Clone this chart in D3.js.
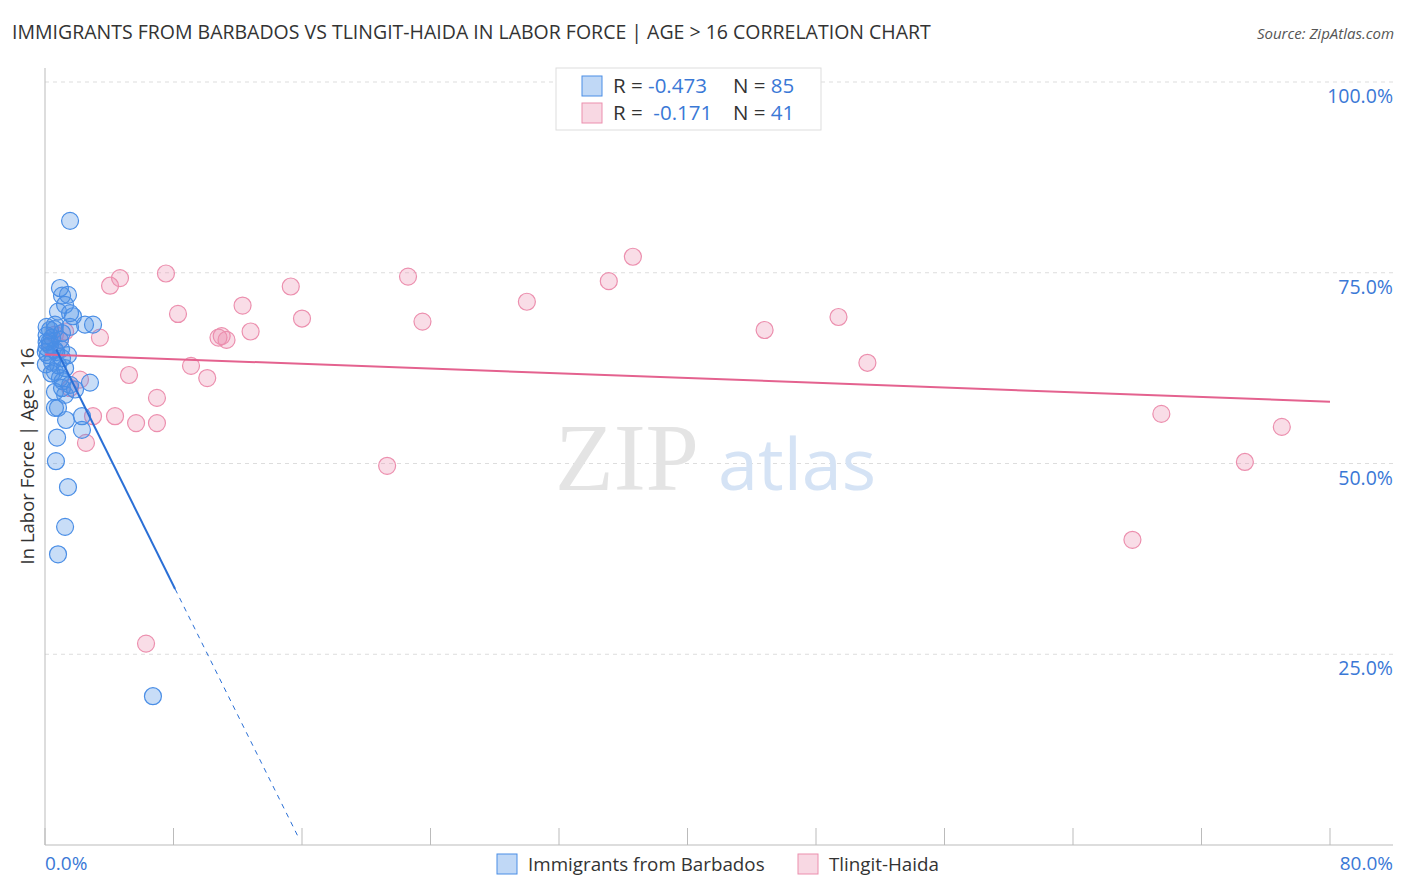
<!DOCTYPE html>
<html><head><meta charset="utf-8">
<script src="https://cdn.jsdelivr.net/npm/d3@7"></script>
<style>body{margin:0;background:#fff;font-family:"Open Sans",Roboto,sans-serif}</style>
</head><body><svg id="c" width="1406" height="892"></svg>
<script>
// Immigrants from Barbados: [x %, y %]
var barbados = [[1.56,81.8],[0.93,73.0],[1.06,72.0],[1.43,72.1],[1.25,70.8],[0.81,69.9],[1.56,69.7],[1.74,69.3],
  [2.99,68.2],[2.49,68.2],[1.56,67.9],[0.62,68.2],[0.31,67.5],[1.06,67.1],[0.44,66.5],[0.93,66.2],[0.31,65.5],
  [0.62,64.9],[0.19,64.2],[1.43,64.2],[1.06,63.8],[0.44,63.3],[0.81,62.9],[1.25,62.5],[0.62,62.0],[0.93,61.2],
  [2.80,60.6],[1.56,60.3],[1.06,59.9],[0.62,59.4],[1.87,59.7],[1.25,59.0],[0.62,57.3],[0.81,57.3],[2.30,56.2],
  [1.31,55.7],[2.30,54.4],[0.75,53.4],[0.68,50.3],[1.43,46.9],[1.25,41.7],[0.81,38.1],[6.72,19.5],
  [0.1,66.8],[0.1,65.9],[0.05,63.0],[0.7,64.6],[0.4,61.8],[1.0,65.0],[0.1,65.2],[0.6,67.6],[1.1,60.8],
  [0.1,67.9],[0.05,64.6],[0.3,66.0]];
// Tlingit-Haida
var tlingit = [[4.67,74.3],[4.05,73.3],[7.53,74.9],[15.3,73.2],[22.6,74.5],[36.6,77.1],[35.1,73.9],[30.0,71.2],
  [12.3,70.7],[8.28,69.6],[16.0,69.0],[23.5,68.6],[49.4,69.2],[44.8,67.5],[12.8,67.3],[11.0,66.7],[10.8,66.5],
  [11.3,66.2],[3.42,66.5],[51.2,63.2],[9.09,62.8],[5.23,61.6],[10.1,61.2],[2.18,61.0],[1.56,59.9],[6.97,58.6],
  [2.99,56.2],[4.36,56.2],[5.67,55.3],[6.97,55.3],[2.55,52.7],[69.5,56.5],[77.0,54.8],[74.7,50.2],[21.3,49.7],
  [67.7,40.0],[6.29,26.4],[0.62,66.9],[0.31,65.5],[0.93,66.2],[1.25,67.3]];
var yTicks = [25, 50, 75, 100];
var xTicks = d3.range(0, 81, 8);

var svg = d3.select("#c");
var x = d3.scaleLinear().domain([0, 80]).range([45, 1330]);
var y = d3.scaleLinear().domain([0, 100]).range([845, 82]);
var blue = "#4a8ee6", pink = "#ec8fae";

svg.append("text").attr("x", 12).attr("y", 39).attr("font-size", 19.5).attr("fill", "#333")
  .text("IMMIGRANTS FROM BARBADOS VS TLINGIT-HAIDA IN LABOR FORCE | AGE > 16 CORRELATION CHART");
svg.append("text").attr("x", 1394).attr("y", 39).attr("font-size", 15).attr("fill", "#555")
  .attr("text-anchor", "end").attr("font-style", "italic").text("Source: ZipAtlas.com");

// grid
svg.selectAll(".g").data(yTicks).enter().append("line")
  .attr("x1", 45).attr("x2", 1393).attr("y1", y).attr("y2", y)
  .attr("stroke", "#ddd").attr("stroke-dasharray", "4,4");
svg.selectAll(".yl").data(yTicks).enter().append("text")
  .attr("x", 1393).attr("y", function(d) { return y(d) + 21; }).attr("text-anchor", "end")
  .attr("font-size", 19.5).attr("fill", "#3a78d6").text(function(d) { return d.toFixed(1) + "%"; });

// axes
svg.append("line").attr("x1", 45).attr("x2", 45).attr("y1", 68).attr("y2", 845).attr("stroke", "#bbb");
svg.append("line").attr("x1", 45).attr("x2", 1393).attr("y1", 845).attr("y2", 845).attr("stroke", "#bbb");
svg.selectAll(".xt").data(xTicks).enter().append("line")
  .attr("x1", x).attr("x2", x).attr("y1", 828).attr("y2", 845).attr("stroke", "#bbb");
svg.append("text").attr("x", 45).attr("y", 870).attr("font-size", 19).attr("fill", "#3a78d6").text("0.0%");
svg.append("text").attr("x", 1393).attr("y", 870).attr("font-size", 19).attr("fill", "#3a78d6")
  .attr("text-anchor", "end").text("80.0%");
svg.append("text").attr("transform", "translate(34,456) rotate(-90)").attr("text-anchor", "middle")
  .attr("font-size", 18.5).attr("fill", "#333").text("In Labor Force | Age > 16");

// watermark
svg.append("text").attr("x", 555).attr("y", 490).attr("font-size", 96).attr("font-family", "Liberation Serif, serif")
  .attr("fill", "#e4e4e4").text("ZIP");
svg.append("text").attr("x", 718).attr("y", 490).attr("font-size", 72).attr("fill", "#d5e3f5").text("atlas");

// points
svg.append("g").selectAll("circle").data(tlingit).enter().append("circle")
  .attr("cx", function(d) { return x(d[0]); }).attr("cy", function(d) { return y(d[1]); }).attr("r", 8.5)
  .attr("fill", pink).attr("fill-opacity", 0.3).attr("stroke", pink).attr("stroke-width", 1.2);
svg.append("g").selectAll("circle").data(barbados).enter().append("circle")
  .attr("cx", function(d) { return x(d[0]); }).attr("cy", function(d) { return y(d[1]); }).attr("r", 8.5)
  .attr("fill", blue).attr("fill-opacity", 0.3).attr("stroke", blue).attr("stroke-width", 1.2);

// trend lines
svg.append("line").attr("x1", x(0)).attr("y1", y(64.3)).attr("x2", x(80)).attr("y2", y(58.1))
  .attr("stroke", "#e4628f").attr("stroke-width", 2);
var bt = function(v) { return 67.9 - 4.24 * v; };
svg.append("line").attr("x1", x(0.7)).attr("y1", y(bt(0.7))).attr("x2", x(8.1)).attr("y2", y(bt(8.1)))
  .attr("stroke", "#2a6fd6").attr("stroke-width", 2);
svg.append("line").attr("x1", x(8.1)).attr("y1", y(bt(8.1))).attr("x2", x(15.8)).attr("y2", y(bt(15.8)))
  .attr("stroke", "#2a6fd6").attr("stroke-width", 1).attr("stroke-dasharray", "5,5");

// legend
var lg = svg.append("g");
lg.append("rect").attr("x", 556).attr("y", 68).attr("width", 265).attr("height", 62)
  .attr("fill", "#fff").attr("stroke", "#ddd");
[["-0.473", "85", blue], [" -0.171", "41", pink]].forEach(function(r, i) {
  var yy = 86 + i * 27;
  lg.append("rect").attr("x", 582).attr("y", yy - 10).attr("width", 20).attr("height", 20)
    .attr("fill", r[2]).attr("fill-opacity", 0.35).attr("stroke", r[2]);
  var t = lg.append("text").attr("x", 613).attr("y", yy + 7).attr("font-size", 20.5).attr("xml:space", "preserve");
  t.append("tspan").attr("fill", "#333").text("R = ");
  t.append("tspan").attr("fill", "#3a78d6").text(r[0]);
  t.append("tspan").attr("x", 733).attr("fill", "#333").text("N = ");
  t.append("tspan").attr("fill", "#3a78d6").text(r[1]);
});

// bottom legend
[["Immigrants from Barbados", blue, 497], ["Tlingit-Haida", pink, 798]].forEach(function(r) {
  svg.append("rect").attr("x", r[2]).attr("y", 854).attr("width", 20).attr("height", 20)
    .attr("fill", r[1]).attr("fill-opacity", 0.35).attr("stroke", r[1]);
  svg.append("text").attr("x", r[2] + 31).attr("y", 871).attr("font-size", 18.8).attr("fill", "#333").text(r[0]);
});
</script></body></html>
